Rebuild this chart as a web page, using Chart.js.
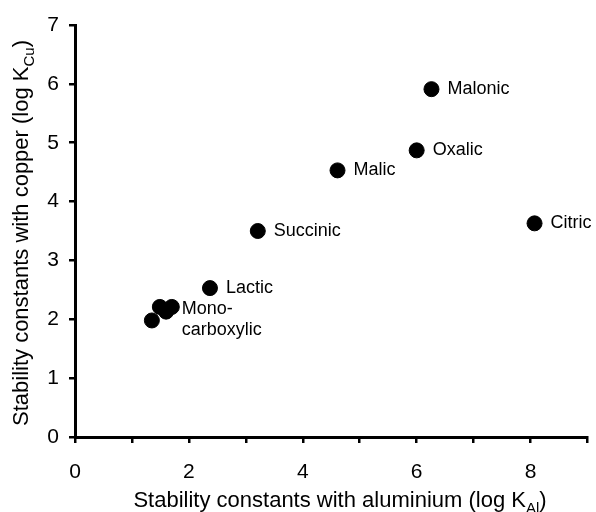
<!DOCTYPE html>
<html><head><meta charset="utf-8">
<script src="https://cdn.jsdelivr.net/npm/chart.js@4"></script>
<style>html,body{margin:0;padding:0;background:#fff}</style>
</head><body>
<canvas id="c" width="596" height="512" style="width:596px;height:512px;display:block"></canvas>
<script>
const acidNames = ['Malonic','Oxalic','Malic','Citric','Succinic','Lactic','Mono-1','Mono-2','Mono-3','Mono-4'];
const logKAl = [6.26, 6.00, 4.61, 8.07, 3.21, 2.37, 1.35, 1.49, 1.60, 1.70];
const logKCu = [5.91, 4.87, 4.53, 3.63, 3.50, 2.53, 1.98, 2.21, 2.13, 2.21];
const pointLabels = ['Malonic','Oxalic','Malic','Citric','Succinic','Lactic','','','','Mono-\ncarboxylic'];
const xTickLabels = [0, 2, 4, 6, 8];
const yTickLabels = [0, 1, 2, 3, 4, 5, 6, 7];
const xTitle = ['Stability constants with aluminium (log K', 'Al', ')'];
const yTitle = ['Stability constants with copper (log K', 'Cu', ')'];

const FONT = '"Liberation Sans", Arial, sans-serif';

function drawSubTitle(ctx, parts, size) {
  const main = size + 'px ' + FONT, sub = Math.round(size * 0.68) + 'px ' + FONT;
  ctx.font = main; const w0 = ctx.measureText(parts[0]).width;
  ctx.font = sub; const w1 = ctx.measureText(parts[1]).width;
  ctx.font = main; const w2 = ctx.measureText(parts[2]).width;
  const total = w0 + w1 + w2;
  let x = -total / 2;
  ctx.textAlign = 'left'; ctx.textBaseline = 'alphabetic';
  ctx.font = main; ctx.fillText(parts[0], x, 0); x += w0;
  ctx.font = sub; ctx.fillText(parts[1], x, size * 0.25); x += w1;
  ctx.font = main; ctx.fillText(parts[2], x, 0);
}

const annot = {
  id: 'annot',
  afterDraw(chart) {
    const ctx = chart.ctx, a = chart.chartArea;
    ctx.save();
    ctx.fillStyle = '#000';
    const meta = chart.getDatasetMeta(0);
    ctx.font = '18px ' + FONT;
    ctx.textAlign = 'left'; ctx.textBaseline = 'middle';
    pointLabels.forEach((lab, i) => {
      if (!lab) return;
      const p = meta.data[i];
      const lines = lab.split('\n');
      if (lines.length === 1) {
        ctx.fillText(lab, p.x + 16, p.y);
      } else {
        lines.forEach((ln, k) => ctx.fillText(ln, p.x + 10, p.y + 2 + k * 21));
      }
    });
    ctx.save();
    ctx.translate(340, 507);
    drawSubTitle(ctx, xTitle, 22);
    ctx.restore();
    ctx.save();
    ctx.translate(28, (a.top + a.bottom) / 2 + 2);
    ctx.rotate(-Math.PI / 2);
    drawSubTitle(ctx, yTitle, 22);
    ctx.restore();
    ctx.restore();
  }
};

new Chart(document.getElementById('c'), {
  type: 'scatter',
  data: {
    labels: acidNames,
    datasets: [{
      data: logKAl.map((x, i) => ({x: x, y: logKCu[i]})),
      backgroundColor: '#000',
      borderColor: '#000',
      pointRadius: 7.5,
      pointHoverRadius: 7.5
    }]
  },
  options: {
    responsive: false,
    animation: false,
    devicePixelRatio: 1,
    layout: {padding: {top: 25, right: -1, left: 0, bottom: 0}},
    plugins: {legend: {display: false}, tooltip: {enabled: false}},
    scales: {
      x: {
        type: 'linear', min: 0, max: 9,
        afterFit: s => { s.height = 75; s.paddingRight = 0; s.paddingLeft = 0; },
        ticks: {
          stepSize: 1, autoSkip: false, maxRotation: 0, color: '#000', padding: 17,
          font: {size: 21, family: FONT},
          callback: v => xTickLabels.includes(v) ? String(v) : ''
        },
        grid: {drawOnChartArea: false, drawTicks: true, tickLength: 6, color: '#000', lineWidth: 2.5},
        border: {display: true, color: '#000', width: 3}
      },
      y: {
        type: 'linear', min: 0, max: 7,
        afterFit: s => { s.width = 75; },
        ticks: {
          stepSize: 1, autoSkip: false, color: '#000', padding: 10,
          font: {size: 21, family: FONT},
          callback: v => yTickLabels.includes(v) ? String(v) : ''
        },
        grid: {drawOnChartArea: false, drawTicks: true, tickLength: 6, color: '#000', lineWidth: 2.5},
        border: {display: true, color: '#000', width: 3}
      }
    }
  },
  plugins: [annot]
});
</script>
</body></html>
